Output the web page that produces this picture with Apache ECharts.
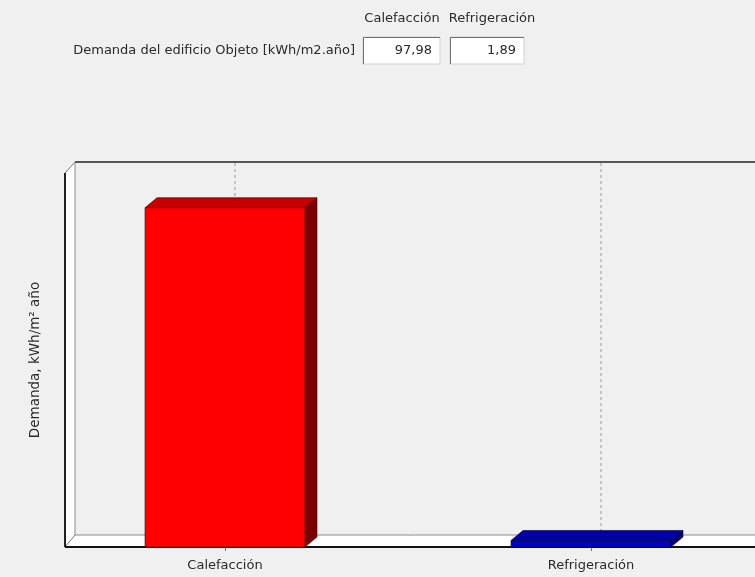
<!DOCTYPE html>
<html>
<head>
<meta charset="utf-8">
<script src="https://cdn.jsdelivr.net/npm/echarts@6/dist/echarts.min.js"></script>
<style>
  html, body { margin: 0; padding: 0; background: #f0f0f0; }
  #Charts { width: 755px; height: 577px; }
</style>
</head>
<body>
<div id="Charts"></div>
<script>
// data
const categories = ['Calefacción', 'Refrigeración'];
const demand = [97.98, 1.89];
const rowLabel = 'Demanda del edificio Objeto [kWh/m2.año]';
const yAxisName = 'Demanda, kWh/m² año';

// layout of the 3d box (pixels)
const wallLeft = 65, plotTop = 173, plotBottom = 547, depthX = 10, depthY = 12;
const barColors = [
  { front: '#ff0000', top: '#c40000', side: '#7a0000', edge: '#400000' },
  { front: '#0000c8', top: '#0000a8', side: '#000070', edge: '#000030' }
];
const font = '"DejaVu Sans", Verdana, sans-serif';

function fmt(v) {
  return v.toFixed(2).replace('.', ',')
}

let chart = echarts.init(document.getElementById('Charts'));

let walls = [
  // left wall
  { type: 'polygon', z: 0, shape: { points: [[wallLeft, plotTop], [wallLeft + depthX, plotTop - depthY + 1], [wallLeft + depthX, plotBottom - depthY], [wallLeft, plotBottom]] }, style: { fill: '#ffffff' } },
  // floor
  { type: 'polygon', z: 0, shape: { points: [[wallLeft, plotBottom], [wallLeft + depthX, plotBottom - depthY], [760, plotBottom - depthY], [760, plotBottom]] }, style: { fill: '#ffffff' } },
  { type: 'line', z: 1, shape: { x1: wallLeft + depthX, y1: plotTop - depthY + 1, x2: 760, y2: plotTop - depthY + 1 }, style: { stroke: '#555555', lineWidth: 2 } },
  { type: 'line', z: 1, shape: { x1: wallLeft + depthX, y1: plotTop - depthY + 1, x2: wallLeft + depthX, y2: plotBottom - depthY }, style: { stroke: '#8a8a8a', lineWidth: 1 } },
  { type: 'line', z: 1, shape: { x1: wallLeft + depthX, y1: plotBottom - depthY, x2: 760, y2: plotBottom - depthY }, style: { stroke: '#8a8a8a', lineWidth: 1 } },
  { type: 'line', z: 1, shape: { x1: wallLeft, y1: plotTop, x2: wallLeft + depthX, y2: plotTop - depthY + 1 }, style: { stroke: '#777777', lineWidth: 1 } },
  { type: 'line', z: 1, shape: { x1: wallLeft, y1: plotBottom, x2: wallLeft + depthX, y2: plotBottom - depthY }, style: { stroke: '#777777', lineWidth: 1 } },
  { type: 'line', z: 1, shape: { x1: wallLeft, y1: plotTop, x2: wallLeft, y2: plotBottom }, style: { stroke: '#222222', lineWidth: 2 } },
  { type: 'line', z: 1, shape: { x1: wallLeft, y1: plotBottom, x2: 760, y2: plotBottom }, style: { stroke: '#111111', lineWidth: 2 } }
];

// table above the chart
let header = [
  { type: 'text', x: 355, y: 51, style: { text: rowLabel, fill: '#2a2a2a', font: '13px ' + font, textAlign: 'right', textVerticalAlign: 'middle' } }
];
const boxX = [363, 450], boxW = [77, 74];
categories.forEach((c, i) => {
  header.push({ type: 'rect', shape: { x: boxX[i], y: 37, width: boxW[i], height: 27 }, style: { fill: '#ffffff', stroke: '#d0d0d0', lineWidth: 1 } });
  header.push({ type: 'polyline', shape: { points: [[boxX[i] + 0.5, 64], [boxX[i] + 0.5, 37.5], [boxX[i] + boxW[i], 37.5]] }, style: { stroke: '#707070', lineWidth: 1, fill: null } });
  header.push({ type: 'text', x: boxX[i] + boxW[i] - 8, y: 51, style: { text: fmt(demand[i]), fill: '#2a2a2a', font: '13px ' + font, textAlign: 'right', textVerticalAlign: 'middle' } });
  header.push({ type: 'text', x: [402, 492][i], y: 19, style: { text: c, fill: '#2a2a2a', font: '13px ' + font, textAlign: 'center', textVerticalAlign: 'middle' } });
});

let option = {
  backgroundColor: '#f0f0f0',
  animation: false,
  graphic: walls.concat(header),
  grid: {
    left: 42,
    width: 732,
    top: plotTop,
    bottom: 577 - plotBottom,
    outerBoundsMode: 'none'
  },
  xAxis: {
    type: 'category',
    data: categories,
    axisLine: { show: false },
    axisTick: { show: true, alignWithLabel: true, length: 4, lineStyle: { color: '#777' } },
    axisLabel: { color: '#2a2a2a', fontSize: 13, fontFamily: font, margin: 12 },
    splitLine: { show: false }
  },
  yAxis: {
    type: 'value',
    min: 0,
    max: 108,
    name: yAxisName,
    nameLocation: 'middle',
    nameGap: 0,
    nameTextStyle: { color: '#2a2a2a', fontSize: 13.5, fontFamily: font },
    axisLine: { show: false },
    axisTick: { show: false },
    axisLabel: { show: false },
    splitLine: { show: false }
  },
  series: [
    {
      type: 'custom',
      z: 5,
      data: categories.map((c, i) => [i, demand[i]]),
      encode: { x: 0, y: 1 },
      renderItem: function (params, api) {
        let idx = api.value(0);
        let base = api.coord([idx, 0]);
        let top = api.coord([idx, api.value(1)]);
        let w = api.size([1, 0])[0] * 0.437;
        let x0 = base[0] - w / 2, x1 = base[0] + w / 2;
        let yt = top[1], yb = base[1];
        let dx = 12, dy = 10;
        let col = barColors[params.dataIndex];
        return {
          type: 'group',
          children: [
            { type: 'line', shape: { x1: base[0] + 10, y1: plotTop - depthY + 2, x2: base[0] + 10, y2: plotBottom - depthY }, style: { stroke: '#9a9a9a', lineWidth: 1, lineDash: [3, 3] } },
            { type: 'polygon', shape: { points: [[x1, yt], [x1 + dx, yt - dy], [x1 + dx, yb - dy], [x1, yb]] }, style: { fill: col.side, stroke: col.edge, lineWidth: 0.6 } },
            { type: 'polygon', shape: { points: [[x0, yt], [x0 + dx, yt - dy], [x1 + dx, yt - dy], [x1, yt]] }, style: { fill: col.top, stroke: col.edge, lineWidth: 0.6 } },
            { type: 'rect', shape: { x: x0, y: yt, width: w, height: yb - yt }, style: { fill: col.front, stroke: col.edge, lineWidth: 0.6 } }
          ]
        }
      }
    }
  ]
};
chart.setOption(option);
</script>
</body>
</html>
